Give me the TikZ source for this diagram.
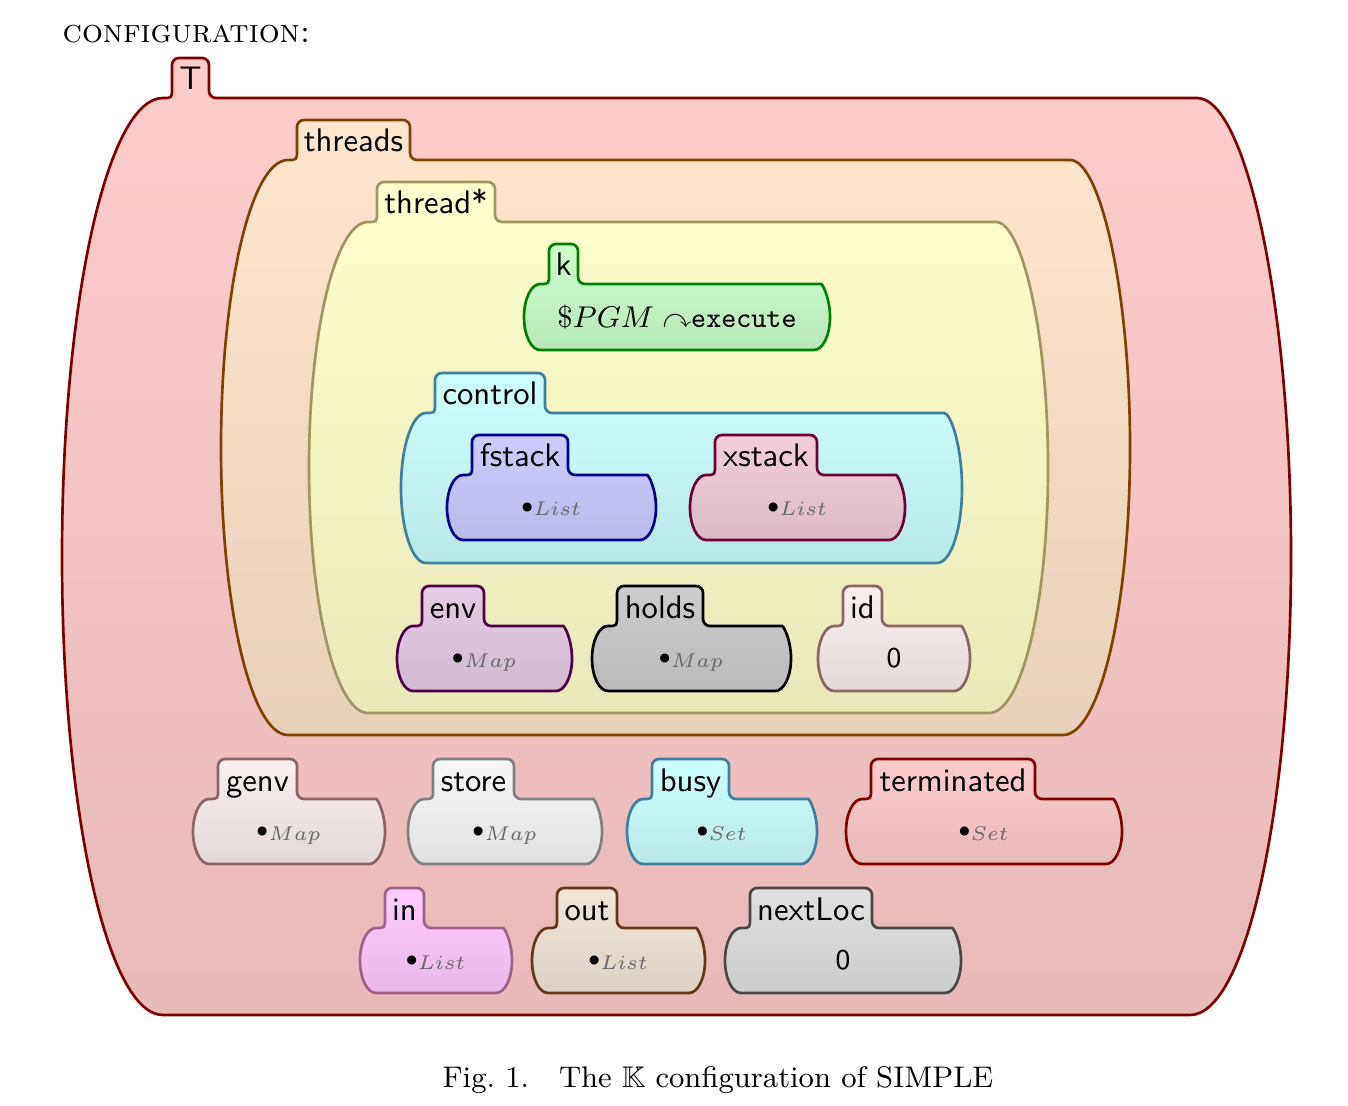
\documentclass[tikz,border=0pt]{standalone}
\usepackage{amssymb}

% fill colours of the cells
\colorlet{Tfill}{red!20}
\colorlet{threadsfill}{orange!20}
\colorlet{threadfill}{yellow!20}
\colorlet{kfill}{green!20}
\colorlet{controlfill}{cyan!20}
\colorlet{fstackfill}{blue!20}
\definecolor{xstackfill}{RGB}{242,206,218}
\colorlet{envfill}{violet!20}
\colorlet{holdsfill}{black!20}
\definecolor{idfill}{RGB}{250,238,238}
\colorlet{storefill}{black!3}
\colorlet{infill}{magenta!20}
\colorlet{outfill}{brown!20}
\colorlet{nextLocfill}{black!12}
\definecolor{threadline}{RGB}{160,150,96}
\definecolor{controlline}{RGB}{62,126,158}
\definecolor{xstackline}{RGB}{110,0,50}
\definecolor{idline}{RGB}{136,100,100}
\definecolor{inline}{RGB}{160,96,136}
\definecolor{outline}{RGB}{96,56,24}

\tikzset{
  cell/.style={line width=0.8pt},
  kc/.style 2 args={draw=#1, top color=#2, bottom color=#2!91!black},
  label text/.style={anchor=base, inner sep=0pt, font=\fontsize{9.8}{12}\selectfont\sffamily},
  value text/.style={inner sep=0pt, font=\fontsize{8.6}{10}\selectfont\sffamily},
  T cell/.style={kc={red!50!black}{Tfill}},
  threads cell/.style={kc={orange!50!black}{threadsfill}},
  thread cell/.style={kc={threadline}{threadfill}},
  k cell/.style={kc={green!50!black}{kfill}},
  control cell/.style={kc={controlline}{controlfill}},
  fstack cell/.style={kc={blue!55!black}{fstackfill}},
  xstack cell/.style={kc={xstackline}{xstackfill}},
  env cell/.style={kc={violet!60!black}{envfill}},
  holds cell/.style={kc={black}{holdsfill}},
  id cell/.style={kc={idline}{idfill}},
  genv cell/.style={kc={idline}{idfill}},
  store cell/.style={kc={black!50}{storefill}},
  busy cell/.style={kc={controlline}{controlfill}},
  terminated cell/.style={kc={red!50!black}{Tfill}},
  in cell/.style={kc={inline}{infill}},
  out cell/.style={kc={outline}{outfill}},
  nextLoc cell/.style={kc={black!72}{nextLocfill}},
}

% #1 name, #2 left, #3 top of body, #4 right, #5 bottom, #6 corner radius, #7 right end of tab, #8 label, #9 contents
\newcommand{\kcell}[9]{%
  \pgfmathsetmacro{\tabl}{#2+#6+9}%
  \pgfmathsetmacro{\midy}{(#3+#5)/2}%
  \pgfmathsetmacro{\ry}{(#5-#3)/2}%
  \draw[cell, #1 cell] (\tabl,#3-10) [rounded corners=2.1pt] -- (\tabl,#3-40) -- (#7,#3-40) -- (#7,#3) -- (#4-#6,#3) [sharp corners]
    arc[start angle=-90, end angle=90, x radius=#6, y radius=\ry] -- (#2+#6,#5)
    arc[start angle=90, end angle=270, x radius=#6, y radius=\ry]
    .. controls (\tabl,#3) .. (\tabl,#3-10) -- cycle;
  \node[label text] (#1-label) at ({(\tabl+#7)/2},#3-8) {#8};
  \node[value text] (#1-value) at ({(#2+#4)/2},\midy) {#9};
}
\newcommand{\kempty}[1]{\raisebox{0pt}[\height][0pt]{\fontsize{9}{10}\selectfont$\mathord{\scriptstyle\bullet}_{\textcolor{black!60}{#1}}$}}

\begin{document}
\begin{tikzpicture}[x=0.3pt, y=-0.3pt]
    \useasboundingbox (0,0) rectangle (1348,1106);

    \node[anchor=base west, inner sep=0pt, font=\fontsize{9.85}{11}\selectfont] (conf) at (62,43) {\textsc{configuration:}};

    \kcell{T}{62}{98}{1291}{1015}{101}{209}{T}{}
    \kcell{threads}{221}{160}{1130}{735}{67}{410}{threads}{}
    \kcell{thread}{309}{222}{1048}{713}{59}{495}{thread*}{}
    \kcell{k}{524}{284}{830}{350}{16}{578}{k}{$\$PGM\curvearrowright$\texttt{execute}}
    \kcell{control}{401}{413}{962}{563}{25}{545}{control}{}
    \kcell{fstack}{447}{475}{656}{540}{16}{568}{fstack}{\kempty{List}}
    \kcell{xstack}{690}{475}{905}{540}{16}{817}{xstack}{\kempty{List}}
    \kcell{env}{397}{626}{572}{691}{16}{484}{env}{\kempty{Map}}
    \kcell{holds}{592}{626}{791}{691}{16}{703}{holds}{\kempty{Map}}
    \kcell{id}{818}{626}{970}{691}{16}{882}{id}{0}

    \kcell{genv}{193}{799}{385}{864}{16}{297}{genv}{\kempty{Map}}
    \kcell{store}{408}{799}{602}{864}{16}{514}{store}{\kempty{Map}}
    \kcell{busy}{627}{799}{817}{864}{16}{729}{busy}{\kempty{Set}}
    \kcell{terminated}{846}{799}{1122}{864}{16}{1035}{terminated}{\kempty{Set}}
    \kcell{in}{360}{928}{512}{993}{16}{424}{in}{\kempty{List}}
    \kcell{out}{532}{928}{705}{993}{16}{617}{out}{\kempty{List}}
    \kcell{nextLoc}{725}{928}{961}{993}{16}{872}{nextLoc}{0}

    \node[anchor=base, inner sep=0pt, font=\fontsize{8.95}{11}\selectfont] (caption) at (718,1087) {Fig.~1.\quad The $\mathbb{K}$ configuration of SIMPLE};
\end{tikzpicture}
\end{document}
